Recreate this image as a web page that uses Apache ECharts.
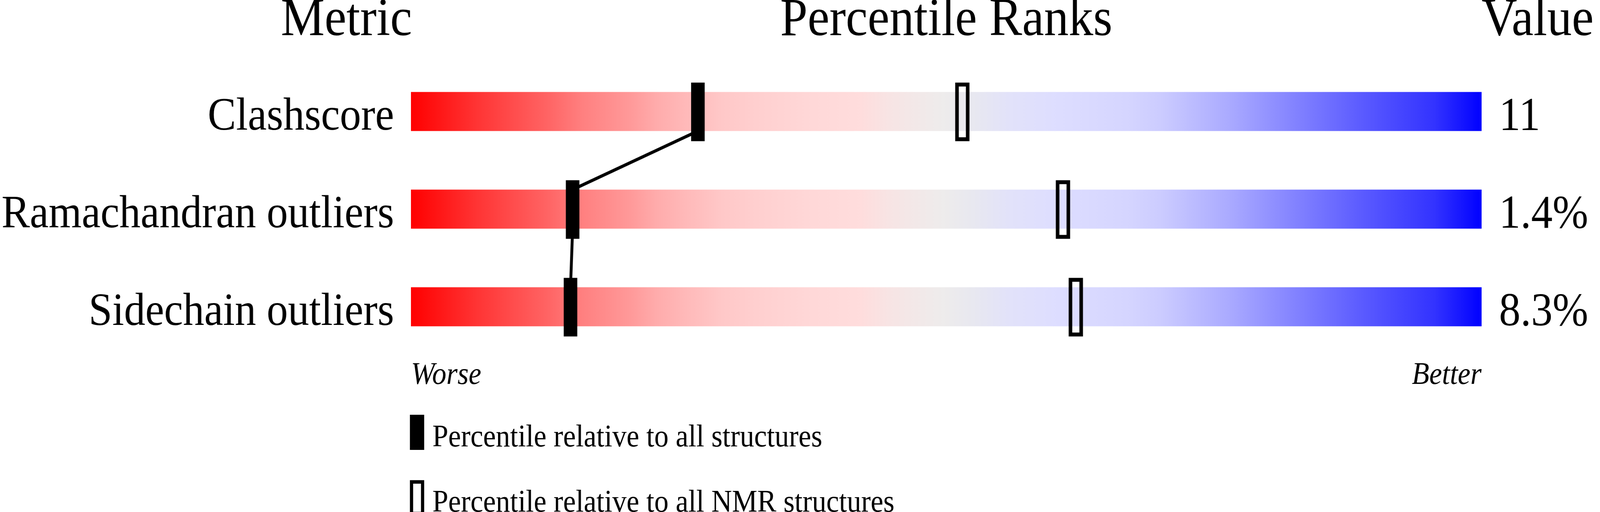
<!DOCTYPE html>
<html>
<head>
<meta charset="utf-8">
<script src="https://cdn.jsdelivr.net/npm/echarts@6/dist/echarts.min.js"></script>
<style>
html,body{margin:0;padding:0;background:#fff;overflow:hidden;}
#chart{width:4485px;height:1311px;transform-origin:0 0;}
</style>
</head>
<body>
<div id="chart"></div>
<script>
// ---- data ----
const metrics = ['Clashscore', 'Ramachandran outliers', 'Sidechain outliers'];
const valueLabels = ['11', '1.4%', '8.3%'];
const pctAll = [26.8, 15.1, 14.9];     // percentile relative to all structures
const pctNMR = [51.5, 60.9, 62.1];     // percentile relative to all NMR structures
const barFull = [100, 100, 100];
const headers = ['Metric', 'Percentile Ranks', 'Value'];
const scaleEnds = ['Worse', 'Better'];
const legendNames = ['Percentile relative to all structures', 'Percentile relative to all NMR structures'];

// ---- layout / style (in reference pixels; the page is fitted to the real window) ----
const FONT = "'Liberation Serif', 'Times New Roman', Times, serif";
const REF_W = 4485, REF_H = 1311;
const GRID_L = 1152, GRID_R = 4153;
const BAR_H = 100;

const dom = document.getElementById('chart');
const vw = document.documentElement.clientWidth || window.innerWidth;
const vh = document.documentElement.clientHeight || window.innerHeight;
dom.style.transform = 'scale(' + (vw / REF_W) + ',' + (vh / REF_H) + ')';
const chart = echarts.init(dom, null, {renderer: 'canvas', width: REF_W, height: REF_H});

const gradient = {
  type: 'linear', x: 0, y: 0, x2: 1, y2: 0,
  colorStops: [
    {offset: 0.00, color: '#ff0000'},
    {offset: 0.06, color: '#ff3333'},
    {offset: 0.13, color: '#ff6666'},
    {offset: 0.16, color: '#ff8080'},
    {offset: 0.206, color: '#ff9a9a'},
    {offset: 0.23, color: '#ffacac'},
    {offset: 0.254, color: '#ffb8b8'},
    {offset: 0.29, color: '#ffc8c8'},
    {offset: 0.326, color: '#ffd0d0'},
    {offset: 0.374, color: '#ffd8d8'},
    {offset: 0.42, color: '#ffdddd'},
    {offset: 0.445, color: '#f8e4e4'},
    {offset: 0.469, color: '#f3e8e8'},
    {offset: 0.497, color: '#eeecec'},
    {offset: 0.525, color: '#e8e8f0'},
    {offset: 0.56, color: '#e2e2fa'},
    {offset: 0.60, color: '#dedeff'},
    {offset: 0.67, color: '#d5d5ff'},
    {offset: 0.70, color: '#ccccff'},
    {offset: 0.765, color: '#aaaaff'},
    {offset: 0.83, color: '#8080ff'},
    {offset: 0.89, color: '#5a5aff'},
    {offset: 0.956, color: '#3333ff'},
    {offset: 1.00, color: '#0000ff'}
  ]
};

const linkData = [];
for (let i = 0; i < pctAll.length - 1; i++) {
  linkData.push([pctAll[i], i, pctAll[i + 1], i + 1]);
}

chart.setOption({
  animation: false,
  backgroundColor: '#ffffff',
  textStyle: {fontFamily: FONT},
  grid: {left: GRID_L, right: REF_W - GRID_R, top: 160.5, bottom: 400.5, containLabel: false},
  xAxis: {
    type: 'value', min: 0, max: 100,
    axisLine: {show: false}, axisTick: {show: false}, axisLabel: {show: false}, splitLine: {show: false}
  },
  yAxis: {
    type: 'category', data: metrics, inverse: true,
    axisLine: {show: false}, axisTick: {show: false}, splitLine: {show: false},
    axisLabel: {
      margin: 47.5,
      formatter: v => '{a|' + v + '}',
      rich: {a: {fontSize: 119, color: '#000', fontFamily: FONT, padding: [31, 0, 0, 0]}}
    }
  },
  legend: {
    left: 1149, top: 1062, height: 270, orient: 'vertical', padding: 0,
    itemWidth: 40, itemHeight: 90, itemGap: 68, selectedMode: false,
    formatter: name => '{t|' + name + '}',
    textStyle: {
      fontSize: 80, color: '#000', fontFamily: FONT,
      rich: {t: {fontSize: 80, color: '#000', fontFamily: FONT, padding: [29, 0, 0, 18]}}
    },
    data: [
      {name: legendNames[0], icon: 'rect', itemStyle: {color: '#000', borderWidth: 0}},
      {name: legendNames[1], icon: 'path://M0,0H40V90H0Z M9,9V81H31V9Z', itemStyle: {color: '#000', borderWidth: 0}}
    ]
  },
  graphic: [
    {type: 'text', x: GRID_L + 3, y: 54, style: {text: headers[0], font: '138px ' + FONT, fill: '#000', align: 'right', verticalAlign: 'middle'}},
    {type: 'text', x: (GRID_L + GRID_R) / 2, y: 54, style: {text: headers[1], font: '138px ' + FONT, fill: '#000', align: 'center', verticalAlign: 'middle'}},
    {type: 'text', x: GRID_R, y: 54, style: {text: headers[2], font: '138px ' + FONT, fill: '#000', align: 'left', verticalAlign: 'middle'}},
    {type: 'text', x: GRID_L, y: 962, style: {text: scaleEnds[0], font: 'italic 80px ' + FONT, fill: '#000', align: 'left', verticalAlign: 'middle'}},
    {type: 'text', x: GRID_R, y: 962, style: {text: scaleEnds[1], font: 'italic 80px ' + FONT, fill: '#000', align: 'right', verticalAlign: 'middle'}}
  ],
  series: [
    {
      type: 'bar', name: 'range', data: barFull, barWidth: BAR_H, z: 2,
      itemStyle: {color: gradient},
      label: {
        show: true, position: 'right', distance: 49,
        formatter: p => '{a|' + valueLabels[p.dataIndex] + '}',
        rich: {a: {fontSize: 120, color: '#000', fontFamily: FONT, padding: [31, 0, 0, 0]}}
      },
      silent: true
    },
    {
      type: 'custom', name: 'link', data: linkData, z: 3, silent: true,
      renderItem: function (params, api) {
        const a = api.coord([api.value(0), api.value(1)]);
        const b = api.coord([api.value(2), api.value(3)]);
        return {
          type: 'line',
          shape: {x1: a[0], y1: a[1] + BAR_H / 2, x2: b[0], y2: b[1] - BAR_H / 2},
          style: {stroke: '#000', lineWidth: 8}
        };
      }
    },
    {
      type: 'custom', name: legendNames[0], data: pctAll.map((v, i) => [v, i]), z: 4, silent: true,
      itemStyle: {color: '#000'},
      renderItem: function (params, api) {
        const p = api.coord([api.value(0), api.value(1)]);
        return {type: 'rect', shape: {x: p[0] - 19, y: p[1] - 74, width: 38, height: 150}, style: {fill: '#000'}};
      }
    },
    {
      type: 'custom', name: legendNames[1], data: pctNMR.map((v, i) => [v, i]), z: 4, silent: true,
      itemStyle: {color: '#000'},
      renderItem: function (params, api) {
        const p = api.coord([api.value(0), api.value(1)]);
        return {type: 'rect', shape: {x: p[0] - 15, y: p[1] - 69, width: 30, height: 140}, style: {fill: 'none', stroke: '#000', lineWidth: 10}};
      }
    }
  ]
});
</script>
</body>
</html>
